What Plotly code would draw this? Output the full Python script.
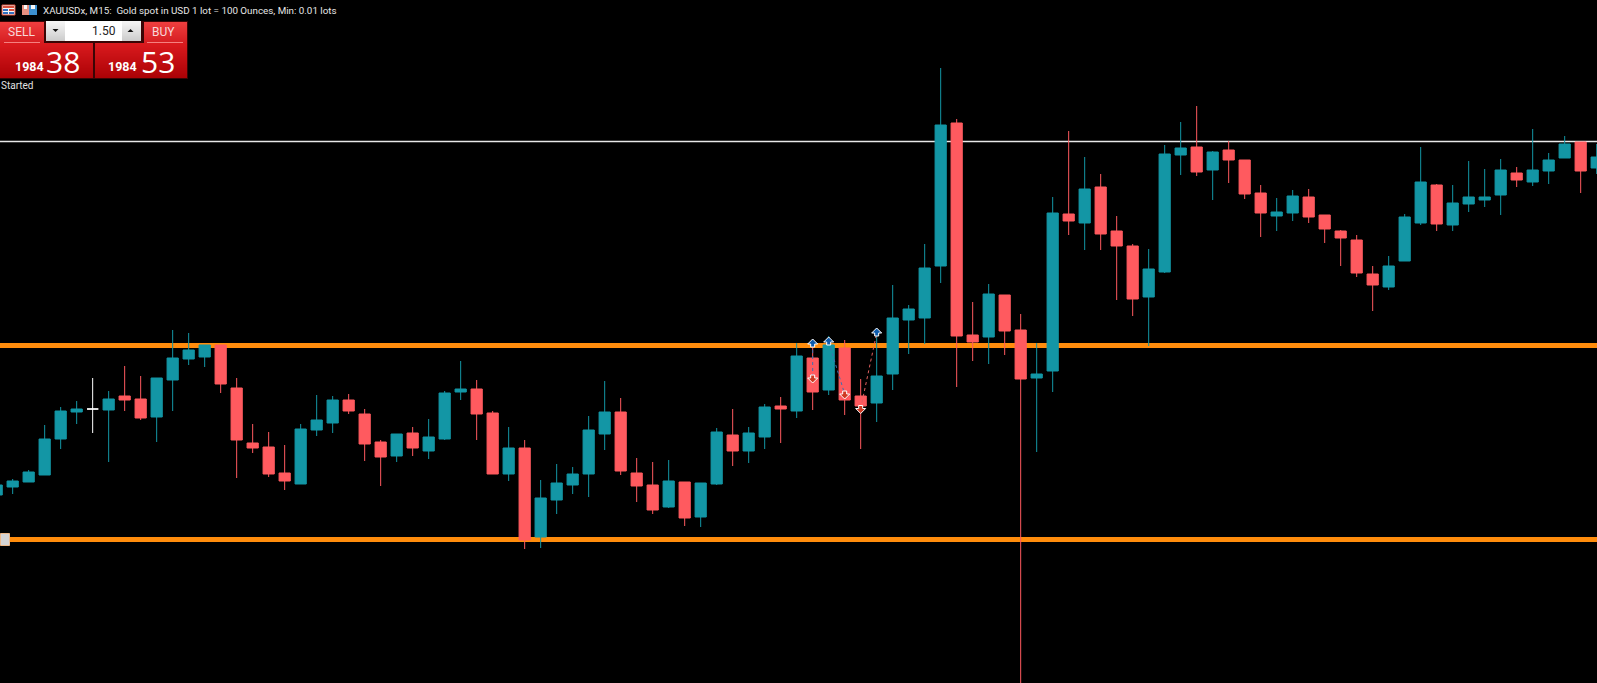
import plotly.graph_objects as go

# ---- Data (prices; the scale has no printed axis) ----
bar_index = list(range(-1, 100))
side = list("TTTTTTWTRR" "TTTTRRRRRT" "TTRRRTRTTT" "RRTRTTTTTR" "RRTRTTRTTR"
            "TRTRRTTTTT" "RRTRRTTRTR" "RRTTTRTRRR" "TTRRRRRTTT" "RTTTTRTTTR" "T")
high = [1950.2,1950.6,1951.5,1956.0,1957.8,1958.4,1960.7,1959.4,1961.9,1960.9,
        1960.7,1965.5,1965.2,1964.0,1964.0,1960.7,1956.1,1955.3,1954.0,1956.1,
        1959.0,1958.9,1959.1,1957.6,1954.5,1955.1,1955.8,1956.6,1959.4,1962.4,
        1960.5,1957.4,1955.8,1954.5,1950.5,1952.1,1951.8,1956.9,1960.4,1958.7,
        1952.7,1952.3,1952.5,1950.3,1950.2,1955.7,1957.6,1955.8,1958.1,1958.8,
        1964.2,1964.5,1964.9,1964.5,1960.6,1965.2,1970.0,1968.0,1974.1,1991.7,
        1986.6,1968.3,1970.1,1969.0,1967.1,1964.2,1978.8,1985.4,1982.8,1981.1,
        1976.9,1974.1,1973.6,1984.0,1986.3,1987.9,1983.4,1984.4,1982.5,1980.0,
        1978.7,1979.5,1979.6,1977.0,1975.5,1975.0,1971.9,1972.9,1977.1,1983.8,
        1980.1,1980.0,1982.4,1981.6,1982.6,1981.8,1985.6,1983.2,1984.9,1984.3,
        1984.1]
body_top = [1950.0,1950.4,1951.3,1954.6,1957.4,1957.6,1957.6,1958.6,1958.9,1958.6,
            1960.7,1962.7,1963.5,1964.0,1964.0,1959.7,1954.2,1953.8,1951.2,1955.6,
            1956.5,1958.5,1958.5,1957.1,1954.3,1955.1,1955.2,1954.8,1959.2,1959.6,
            1959.6,1957.2,1953.7,1953.7,1948.7,1950.2,1951.1,1955.5,1957.3,1957.3,
            1951.2,1950.0,1950.4,1950.3,1950.2,1955.3,1955.0,1955.2,1957.8,1957.9,
            1962.9,1962.7,1964.0,1963.7,1958.9,1960.9,1966.7,1967.6,1971.7,1986.0,
            1986.2,1965.0,1969.1,1969.0,1965.5,1961.1,1977.2,1977.1,1979.6,1979.8,
            1975.4,1973.9,1971.6,1983.1,1983.7,1983.8,1983.3,1983.5,1982.5,1979.2,
            1977.3,1978.9,1978.8,1977.0,1975.4,1974.5,1971.1,1971.9,1976.8,1980.3,
            1980.0,1978.2,1978.8,1978.8,1981.5,1981.2,1981.5,1982.5,1984.1,1984.3,
            1982.8]
body_bottom = [1949.0,1949.8,1950.3,1951.0,1954.6,1957.3,1957.6,1957.5,1958.5,1956.7,
               1956.8,1960.5,1962.6,1962.8,1960.1,1954.5,1953.7,1951.1,1950.4,1950.1,
               1955.5,1956.2,1957.4,1954.1,1952.8,1952.9,1953.7,1953.4,1954.6,1959.3,
               1957.1,1951.1,1951.1,1944.5,1944.8,1948.5,1950.0,1951.1,1955.1,1951.4,
               1949.9,1947.5,1947.8,1946.7,1946.8,1950.1,1953.4,1953.4,1954.8,1957.6,
               1957.4,1959.3,1959.5,1958.5,1957.9,1958.2,1961.1,1966.5,1966.7,1971.9,
               1964.9,1964.3,1964.8,1965.4,1960.6,1960.7,1961.4,1976.4,1976.2,1975.1,
               1973.9,1968.6,1968.8,1971.3,1983.0,1981.3,1981.5,1982.5,1979.1,1977.2,
               1976.9,1977.2,1976.8,1975.6,1974.7,1971.2,1970.0,1969.8,1972.4,1976.2,
               1976.1,1976.0,1978.1,1978.5,1979.0,1980.5,1980.3,1981.4,1982.7,1981.4,
               1981.7]
low = [1948.9,1949.1,1950.3,1951.0,1953.6,1956.1,1955.2,1952.3,1957.4,1956.5,
       1954.3,1957.4,1962.0,1961.8,1959.2,1950.7,1953.2,1950.8,1949.5,1950.1,
       1954.9,1955.2,1957.1,1952.4,1949.9,1952.3,1952.9,1952.6,1954.5,1958.5,
       1954.5,1951.1,1950.4,1943.6,1943.7,1947.1,1949.1,1948.8,1953.5,1951.0,
       1948.3,1947.1,1947.7,1945.9,1945.8,1950.0,1951.9,1952.2,1953.6,1954.2,
       1956.7,1957.5,1959.0,1957.0,1953.6,1956.3,1959.5,1963.1,1964.1,1970.2,
       1959.8,1962.4,1962.1,1963.0,1925.0,1953.3,1959.3,1975.0,1973.5,1973.5,
       1968.5,1966.9,1963.9,1971.2,1981.0,1980.9,1978.5,1980.2,1978.6,1974.8,
       1975.4,1976.4,1976.2,1974.2,1971.9,1970.8,1967.4,1969.5,1972.4,1976.0,
       1975.4,1975.4,1977.3,1977.8,1977.0,1979.8,1979.9,1980.1,1982.7,1979.2,
       1981.1]

resistance_price = 1963.95
support_price = 1944.55
bid_price = 1984.35

buy_entries = [(50, 1964.1), (51, 1964.3), (54, 1965.2)]
sell_exits = [(50, 1960.7), (52, 1959.1), (53, 1957.65)]
trade_pairs = [(50, 1964.1, 50, 1960.7, "#3f6fb0"),
               (51, 1964.3, 52, 1959.1, "#3f6fb0"),
               (53, 1957.65, 54, 1965.2, "#e0605f")]

title_text = "XAUUSDx, M15:  Gold spot in USD 1 lot = 100 Ounces, Min: 0.01 lots"
lot_text = "1.50"
sell_big, sell_small = "1984", "38"
buy_big, buy_small = "1984", "53"

TEAL, RED = "#1396A5", "#FF5A5F"
W, H = 1597, 683

fig = go.Figure()


def candles(code, color):
    idx = [i for i, s in enumerate(side) if s == code]
    up = code != "R"
    fig.add_trace(go.Candlestick(
        x=[bar_index[i] for i in idx],
        open=[(body_bottom if up else body_top)[i] for i in idx],
        close=[(body_top if up else body_bottom)[i] for i in idx],
        high=[high[i] for i in idx],
        low=[low[i] for i in idx],
        increasing=dict(line=dict(color=color, width=1), fillcolor=color),
        decreasing=dict(line=dict(color=color, width=1), fillcolor=color),
        whiskerwidth=0, showlegend=False, hoverinfo="skip"))


candles("T", TEAL)
candles("R", RED)
candles("W", "#FFFFFF")

for x0, y0, x1, y1, c in trade_pairs:
    fig.add_trace(go.Scatter(x=[x0, x1], y=[y0, y1], mode="lines",
                             line=dict(color=c, width=1, dash="3px,3px"),
                             showlegend=False, hoverinfo="skip"))

shapes = []


def arrow(bar, price, direction, fill):
    # small glyph anchored on a data point, drawn in pixels around it
    s = direction
    path = (f"M0,{5*s} L5,{0*s} L2,{0*s} L2,{-3*s} L-2,{-3*s} "
            f"L-2,{0*s} L-5,{0*s} Z")
    shapes.append(dict(type="path", layer="above", xref="x", yref="y",
                       xsizemode="pixel", ysizemode="pixel", xanchor=bar, yanchor=price,
                       path=path, fillcolor=fill, line=dict(color="#FFFFFF", width=1)))


for bar, price in buy_entries:
    arrow(bar, price, 1, "#0F5CAD")
for bar, price in sell_exits:
    arrow(bar, price, -1, "#CF3A22")


def hline(price, color, width):
    shapes.append(dict(type="line", xref="paper", x0=0, x1=1, yref="y", y0=price, y1=price,
                       line=dict(color=color, width=width), layer="below"))


hline(bid_price, "#E8E8E8", 1.4)
hline(resistance_price, "#FF8C0C", 5)
hline(support_price, "#FF8C0C", 5)


def rect(x0, y0, x1, y1, fill, line=None, lw=0):
    shapes.append(dict(type="rect", xref="paper", yref="paper", layer="above",
                       x0=x0 / W, x1=x1 / W, y0=1 - y0 / H, y1=1 - y1 / H,
                       fillcolor=fill, line=dict(color=line or fill, width=lw)))


def mix(c0, c1, t):
    return "rgb(%d,%d,%d)" % tuple(round(a + (b - a) * t) for a, b in zip(c0, c1))


def gradient(x0, y0, x1, y1, c0, c1):
    rows = y1 - y0
    for r in range(rows):
        rect(x0, y0 + r, x1, y0 + r + 1, mix(c0, c1, r / max(rows - 1, 1)))


# drag handle on the lower line
rect(0.5, 533.5, 9.5, 545.5, "#D4D4D4", "#EDB98A", 1)

# trade panel
rect(0, 21, 188, 79, "#3A0505")
gradient(0, 22, 44, 43, (238, 62, 62), (214, 30, 34))
gradient(144, 22, 187, 43, (238, 62, 62), (214, 30, 34))
gradient(0, 43, 93, 78, (218, 26, 30), (172, 2, 6))
gradient(95, 43, 187, 78, (218, 26, 30), (172, 2, 6))
rect(4, 42, 40, 43, "#F58080")
rect(147, 42, 183, 43, "#F58080")
# lot spinner
rect(46, 21, 141, 41, "#FFFFFF")
gradient(46, 21, 65, 41, (245, 245, 245), (205, 205, 205))
gradient(122, 21, 141, 41, (245, 245, 245), (205, 205, 205))
for xa, ya, yb in [(52.5, 29, 32), (127.5, 32, 29)]:
    shapes.append(dict(type="path", xref="paper", yref="paper", layer="above", line=dict(width=0), fillcolor="#111",
                       path=f"M{xa/W},{1-ya/H} L{(xa+6)/W},{1-ya/H} L{(xa+3)/W},{1-yb/H} Z"))

# window icons
rect(2, 5, 15, 15, "#F6F6F6", "#D8503C", 1)
rect(3, 6, 14, 8, "#D8503C")
rect(3, 9, 8, 11, "#3070C0")
rect(9, 9, 14, 11, "#D8503C")
rect(3, 12, 8, 14, "#3070C0")
rect(9, 12, 14, 14, "#3070C0")
rect(22, 5, 29, 15, "#E89080")
rect(29, 5, 37, 15, "#3C90D0")
rect(24, 5, 27, 9, "#F8F8F8")
rect(31, 5, 35, 9, "#F8F8F8")


def label(x, y, text, size, color, anchor="center", bold=False, family="Roboto"):
    return dict(xref="paper", yref="paper", x=x / W, y=1 - y / H, text=f"<b>{text}</b>" if bold else text,
                showarrow=False, xanchor=anchor, yanchor="middle",
                font=dict(size=size, color=color, family=family))


annotations = [
    label(41, 10, title_text, 9.8, "#E6E6E6", "left"),
    label(21, 31.5, "SELL", 12, "#F8D8D8"),
    label(163, 31.5, "BUY", 12, "#F8D8D8"),
    label(118, 31, lot_text, 12, "#222222", "right"),
    label(29, 67, sell_big, 12.5, "#FFFFFF", bold=True),
    label(63, 61, sell_small, 30, "#FFFFFF", family="Open Sans"),
    label(123, 67, buy_big, 12.5, "#FFFFFF", bold=True),
    label(158, 61, buy_small, 30, "#FFFFFF", family="Open Sans"),
    label(-1, 85.5, "Started", 10, "#E0E0E0", "left"),
]

fig.update_layout(
    width=W, height=H, margin=dict(l=0, r=0, t=0, b=0),
    paper_bgcolor="#000000", plot_bgcolor="#000000", showlegend=False,
    boxgap=0.3, boxgroupgap=0, shapes=shapes, annotations=annotations,
    xaxis=dict(range=[-0.792, 99.02], visible=False, rangeslider=dict(visible=False), fixedrange=True),
    yaxis=dict(range=[1930.2, 1998.5], visible=False, fixedrange=True),
)

fig.write_html("out.html", config=dict(displayModeBar=False),
               post_script="document.body.style.margin='0';document.body.style.background='#000';document.body.style.overflow='hidden';")
